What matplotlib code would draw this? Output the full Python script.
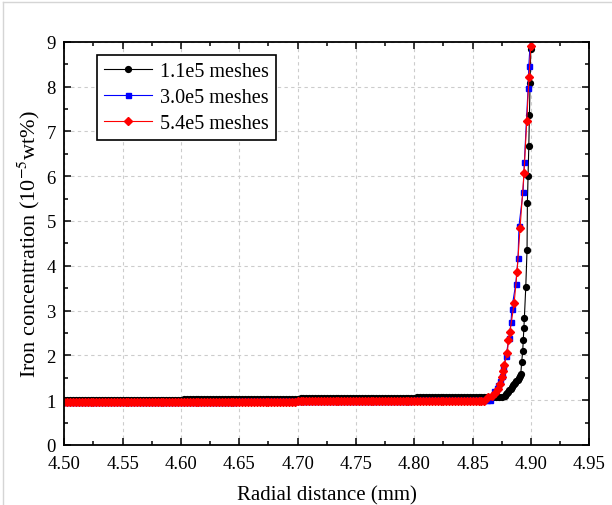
import numpy as np
import matplotlib
matplotlib.use("Agg")
import matplotlib.pyplot as plt
from matplotlib.lines import Line2D
from matplotlib.ticker import MultipleLocator

plt.rcParams['font.family'] = ['Liberation Serif', 'DejaVu Serif']
plt.rcParams['mathtext.fontset'] = 'stix'

# 1.1e5 meshes: flat part on a regular mesh, then the ramp and the steep rise
m1_flat_x = np.round(np.arange(4.500, 4.8751, 0.0025), 4)
m1_flat_y = [1.00] * 41 + [1.02] * 40 + [1.04] * 40 + [1.07] * 30
m1_rise_x = [4.8775, 4.8785, 4.8795, 4.8805, 4.8815, 4.8825, 4.8835, 4.8845,
             4.8855, 4.8865, 4.8875, 4.8885, 4.8895, 4.8905, 4.8912,
             4.8920, 4.8929, 4.8934, 4.8940, 4.8943, 4.8955, 4.8966, 4.8969,
             4.8975, 4.8981, 4.8986, 4.8992, 4.8998, 4.9003]
m1_rise_y = [1.10, 1.13, 1.16, 1.19, 1.23, 1.26, 1.29, 1.33,
             1.36, 1.39, 1.43, 1.46, 1.50, 1.54, 1.58,
             1.85, 2.10, 2.35, 2.62, 2.83, 3.52, 4.36, 5.40,
             6.00, 6.67, 7.36, 8.08, 8.84, 9.60]

# 3.0e5 meshes
m3_flat_x = np.round(np.arange(4.500, 4.8651, 0.0025), 4)
m3_flat_y = [0.97] * 60 + [0.98] * 60 + [1.00] * 27
m3_rise_x = [4.8683, 4.8706, 4.8720, 4.8734, 4.8749, 4.8763, 4.8786, 4.8811,
             4.8829, 4.8835, 4.8869, 4.8889, 4.8897, 4.8932, 4.8943, 4.8975,
             4.8981, 4.8998]
m3_rise_y = [1.20, 1.27, 1.34, 1.42, 1.55, 1.73, 1.99, 2.38,
             2.74, 3.04, 3.59, 4.17, 4.89, 5.65, 6.31, 7.97,
             8.45, 9.20]

# 5.4e5 meshes
m5_flat_x = np.round(np.arange(4.500, 4.8601, 0.0025), 4)
m5_flat_y = [0.96] * 40 + [0.97] * 40 + [0.98] * 40 + [0.99] * 25
m5_rise_x = [4.8634, 4.8663, 4.8692, 4.8715, 4.8734, 4.8749, 4.8763, 4.8771,
             4.8797, 4.8806, 4.8820, 4.8855, 4.8880, 4.8906, 4.8940, 4.8963,
             4.8983, 4.8998]
m5_rise_y = [1.06, 1.10, 1.16, 1.25, 1.36, 1.52, 1.66, 1.79,
             2.05, 2.34, 2.53, 3.16, 3.85, 4.84, 6.07, 7.23,
             8.21, 8.91]

series = [
    ('1.1e5 meshes', m1_flat_x, m1_flat_y, m1_rise_x, m1_rise_y, 'black', 'o', 4.2),
    ('3.0e5 meshes', m3_flat_x, m3_flat_y, m3_rise_x, m3_rise_y, 'blue', 's', 3.6),
    ('5.4e5 meshes', m5_flat_x, m5_flat_y, m5_rise_x, m5_rise_y, 'red', 'D', 3.8),
]

fig = plt.figure(figsize=(6.12, 5.06), dpi=100)
ax = fig.add_axes([0.105, 0.1186, 0.858, 0.797])

for label, fx, fy, rx, ry, c, mk, ms in series:
    x = np.concatenate([fx, rx])
    y = np.concatenate([fy, ry])
    ax.plot(x, y, color=c, marker=mk, markersize=ms, linewidth=0.8, label=label)

ax.set_xlim(4.50, 4.95)
ax.set_ylim(0, 9)
ax.xaxis.set_major_locator(MultipleLocator(0.05))
ax.xaxis.set_minor_locator(MultipleLocator(0.025))
ax.yaxis.set_major_locator(MultipleLocator(1))
ax.yaxis.set_minor_locator(MultipleLocator(0.5))
ax.xaxis.set_major_formatter(matplotlib.ticker.FormatStrFormatter('%.2f'))

ax.tick_params(which='both', direction='in', top=True, right=True, labelsize=13.5)
ax.tick_params(axis='x', pad=7)
ax.tick_params(axis='y', pad=6)
ax.tick_params(which='major', length=5, width=1.1)
ax.tick_params(which='minor', length=3, width=1.1)
for s in ax.spines.values():
    s.set_linewidth(1.3)

ax.grid(True, which='major', linestyle=(0, (3, 3)), color='#cccccc', linewidth=0.8)
ax.set_axisbelow(True)

ax.set_xlabel('Radial distance (mm)', fontsize=15, labelpad=10)
ax.set_ylabel('Iron concentration (10$^{-5}$wt%)', fontsize=16, labelpad=3)

handles = [Line2D([], [], color=c, marker=mk, markersize=ms, linewidth=0.8)
           for _, _, _, _, _, c, mk, ms in series]
leg = ax.legend(handles, [s[0] for s in series], loc='upper left',
                bbox_to_anchor=(0.062, 0.968), borderaxespad=0, fontsize=14.5,
                frameon=True, fancybox=False, edgecolor='black', framealpha=1,
                handlelength=2.4, labelspacing=0.35, borderpad=0.35, handletextpad=0.4)
leg.get_frame().set_linewidth(1.2)

# thin grey frame around the picture
fig.add_artist(Line2D([0.005, 0.005], [0, 0.994], transform=fig.transFigure,
                      color='#d5d5d5', linewidth=1))
fig.add_artist(Line2D([0.005, 1.0], [0.994, 0.994], transform=fig.transFigure,
                      color='#d5d5d5', linewidth=1))

fig.savefig('out.png', dpi=100)
